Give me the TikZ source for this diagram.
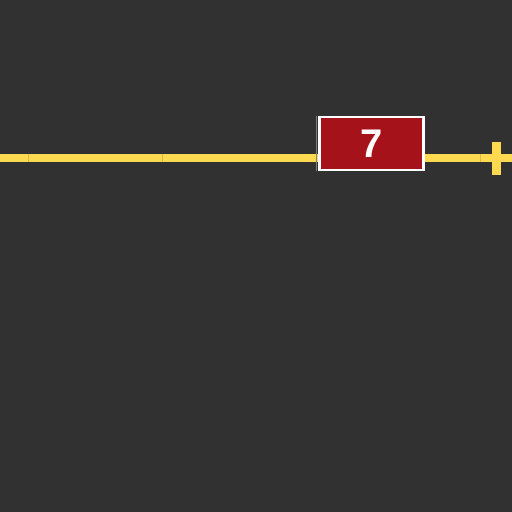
\documentclass[tikz,border=0pt]{standalone}
\usepackage{fontspec}
\setmainfont{Liberation Sans}
\usetikzlibrary{positioning, calc}

\definecolor{bgdark}{HTML}{313131}
\definecolor{roadyellow}{HTML}{FFD94F}
\definecolor{seamyellow}{HTML}{D9B848}
\definecolor{labelred}{HTML}{A5121A}

\begin{document}
\begin{tikzpicture}[
		x=0.5pt, y=-0.5pt,
		road/.style={draw=roadyellow, line width=4pt},
		seam/.style={draw=seamyellow, line width=0.4pt},
		tick/.style={draw=roadyellow, line width=4.5pt},
		routebox/.style={fill=labelred, draw=white, line width=1.1pt, minimum width=52pt, minimum height=26.5pt, inner sep=0pt, text=white, font=\fontsize{20}{24}\selectfont\bfseries}
		]
		
		% background
		\fill[bgdark] (0,0) rectangle (512,512);
		\useasboundingbox (0,0) rectangle (512,512);
		
		% --- road segments ---
		\coordinate (r0) at (0,158);
		\coordinate (r1) at (28,158);
		\coordinate (r2) at (162,158);
		\coordinate (r3) at (480,158);
		\coordinate (r4) at (512,158);
		\draw[road] (r0) -- (r1) -- (r2) -- (r3) -- (r4);
		\foreach \p in {r1, r2, r3}
		\draw[seam] ($(\p)+(0,-4)$) -- ($(\p)+(0,4)$);
		
		% end marker
		\coordinate (endtop) at (496.5,142);
		\coordinate (endbot) at (496.5,175);
		\draw[tick] (endtop) -- (endbot);
		
		% route label
		\node[routebox] (label) at (371.5,143.5) {7};
		\draw[gray, line width=0.8pt] ([xshift=-1pt]label.north west) -- ([xshift=-1pt]label.south west);
		
	\end{tikzpicture}
\end{document}
